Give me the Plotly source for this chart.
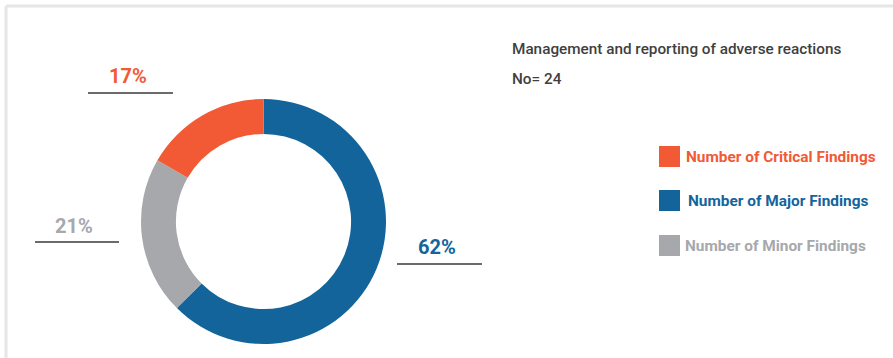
import plotly.graph_objects as go

# Findings for "Management and reporting of adverse reactions"
categories = ["Number of Critical Findings", "Number of Major Findings", "Number of Minor Findings"]
counts = [4, 15, 5]
colors = ["#F15A35", "#14649C", "#A7A8AC"]
title_text = "Management and reporting of adverse reactions"

W, H = 893, 358
total = sum(counts)
percents = [round(100 * c / total) for c in counts]


def px(x):
    return x / W


def py(y):
    return 1 - y / H


# Pie order: Major first clockwise from 12 o'clock, then Minor, then Critical
order = [1, 2, 0]
fig = go.Figure(
    go.Pie(
        labels=[categories[i] for i in order],
        values=[counts[i] for i in order],
        marker=dict(colors=[colors[i] for i in order], line=dict(width=0)),
        hole=0.715,
        sort=False,
        direction="clockwise",
        rotation=0,
        textinfo="none",
        hoverinfo="label+percent",
        showlegend=False,
        domain=dict(x=[px(141), px(386)], y=[py(344), py(99)]),
    )
)

font_family = "Roboto, Open Sans, sans-serif"
annotations = []
shapes = []

# Frame around the panel
shapes.append(dict(type="line", xref="paper", yref="paper", x0=px(6), x1=1.01, y0=py(6), y1=py(6),
                   line=dict(color="#E6E6E6", width=3)))
shapes.append(dict(type="line", xref="paper", yref="paper", x0=px(6), x1=px(6), y0=py(6), y1=-0.01,
                   line=dict(color="#E6E6E6", width=3)))

# Title block
annotations.append(dict(text=title_text, x=px(510), y=py(49), xref="paper", yref="paper",
                        xanchor="left", yanchor="middle", showarrow=False,
                        font=dict(family=font_family, size=15.3, color="#3F3F3F", weight=500)))
annotations.append(dict(text=f"No= {total}", x=px(510), y=py(79), xref="paper", yref="paper",
                        xanchor="left", yanchor="middle", showarrow=False,
                        font=dict(family=font_family, size=15.3, color="#3F3F3F", weight=500)))

# Percentage labels with underline
label_pos = [(128, 76, 88, 173, 93), (437, 247, 397, 482, 264), (74, 226, 35, 119, 242)]
for i, (tx, ty, lx0, lx1, ly) in enumerate(label_pos):
    annotations.append(dict(text=f"{percents[i]}%", x=px(tx), y=py(ty), xref="paper", yref="paper",
                            xanchor="center", yanchor="middle", showarrow=False,
                            font=dict(family=font_family, size=20, color=colors[i], weight="bold")))
    shapes.append(dict(type="line", xref="paper", yref="paper", x0=px(lx0), x1=px(lx1),
                       y0=py(ly), y1=py(ly), line=dict(color="#6B6B6B", width=2)))

# Custom legend with coloured labels
legend_rows = [(146, 684), (190, 686), (235, 683)]
for i, (top, text_x) in enumerate(legend_rows):
    shapes.append(dict(type="rect", xref="paper", yref="paper", x0=px(659), x1=px(680),
                       y0=py(top + 21), y1=py(top), fillcolor=colors[i], line=dict(width=0)))
    annotations.append(dict(text=categories[i], x=px(text_x), y=py(top + 10.5), xref="paper", yref="paper",
                            xanchor="left", yanchor="middle", showarrow=False,
                            font=dict(family=font_family, size=15.4, color=colors[i], weight="bold")))

fig.update_layout(
    width=W, height=H,
    margin=dict(l=0, r=0, t=0, b=0),
    paper_bgcolor="white", plot_bgcolor="white",
    annotations=annotations, shapes=shapes,
)

fig.write_html("out.html")
